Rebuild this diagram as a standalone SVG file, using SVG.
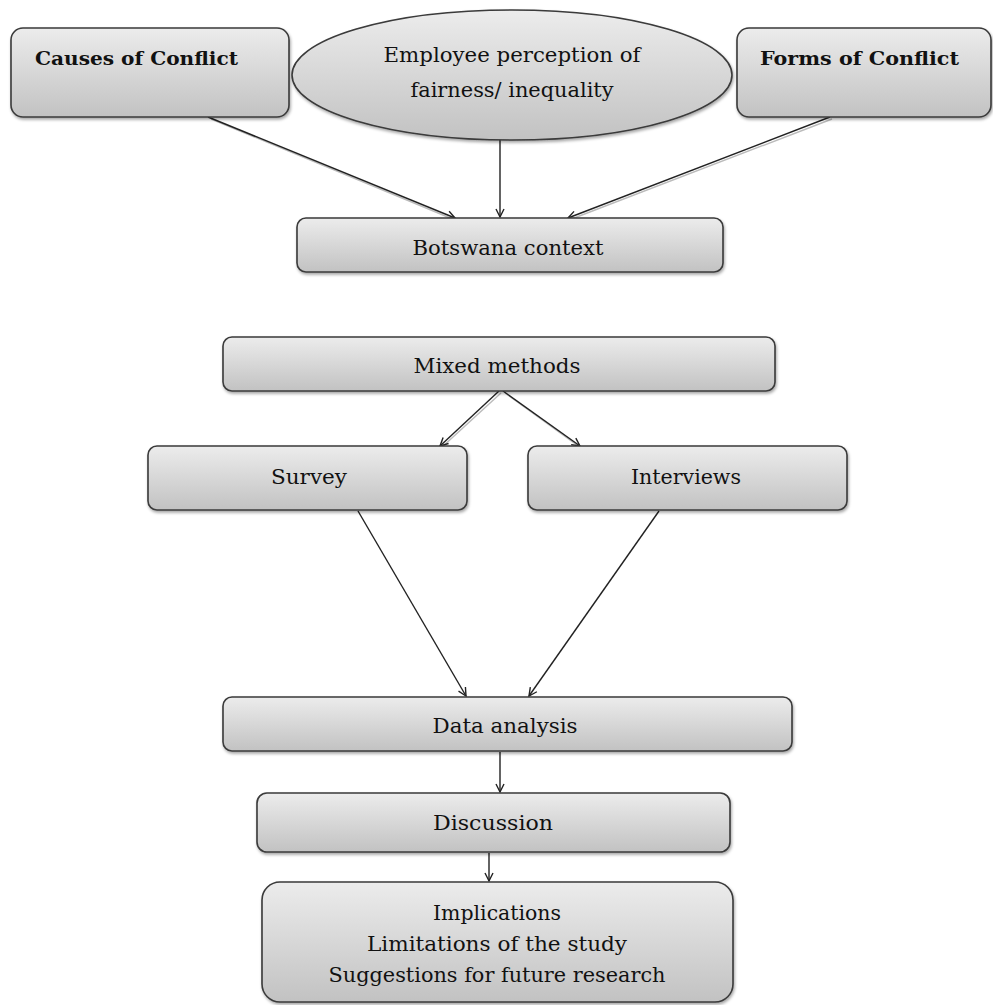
<svg xmlns="http://www.w3.org/2000/svg" width="993" height="1005" viewBox="0 0 993 1005">
<style>
.box{fill:url(#g);stroke:#3a3a3a;stroke-width:1.6;filter:url(#sh)}
.t{font-family:"DejaVu Serif","Liberation Serif",serif;font-size:20px;fill:#111;text-anchor:middle}
.b{font-family:"DejaVu Serif","Liberation Serif",serif;font-size:19px;font-weight:bold;fill:#111}
.c{stroke:#222;stroke-width:1.4;fill:none;marker-end:url(#ah)}
.s{stroke:#bbb;stroke-width:1.4;fill:none}
</style>
<defs>
<linearGradient id="g" x1="0" y1="0" x2="0" y2="1">
<stop offset="0" stop-color="#ececec"/>
<stop offset="1" stop-color="#c2c2c2"/>
</linearGradient>
<filter id="sh" x="-5%" y="-5%" width="115%" height="130%">
<feDropShadow dx="1" dy="2" stdDeviation="1.5" flood-color="#000" flood-opacity="0.35"/>
</filter>
<marker id="ah" markerWidth="12" markerHeight="12" refX="9" refY="5" orient="auto" markerUnits="userSpaceOnUse">
<path d="M1,1 L9,5 L1,9" fill="none" stroke="#222" stroke-width="1.4"/>
</marker>
</defs>
<rect width="993" height="1005" fill="#fff"/>
<g id="connectors">
<line class="s" x1="211" y1="119" x2="455" y2="220"/>
<line class="c" x1="208" y1="117" x2="455" y2="218"/>
<line class="c" x1="500" y1="140" x2="500" y2="217"/>
<line class="s" x1="832" y1="119" x2="569" y2="220"/>
<line class="c" x1="830" y1="117" x2="568" y2="218"/>
<line class="s" x1="501" y1="393" x2="441" y2="448"/>
<line class="c" x1="499" y1="391" x2="440" y2="446"/>
<line class="s" x1="505" y1="393" x2="581" y2="448"/>
<line class="c" x1="503" y1="391" x2="580" y2="446"/>
<line class="c" x1="358" y1="511" x2="466" y2="696"/>
<line class="c" x1="659" y1="511" x2="529" y2="696"/>
<line class="c" x1="500" y1="752" x2="500" y2="792"/>
<line class="c" x1="489" y1="853" x2="489" y2="881"/>
</g>
<g id="causes">
<rect class="box" x="11" y="28" width="278" height="89" rx="12"/>
<text class="b" x="35" y="65" textLength="203" lengthAdjust="spacingAndGlyphs">Causes of Conflict</text>
</g>
<g id="perception">
<ellipse class="box" cx="512" cy="75" rx="220" ry="65"/>
<text class="t" x="512" y="62" textLength="257" lengthAdjust="spacingAndGlyphs">Employee perception of</text>
<text class="t" x="512" y="97" textLength="203" lengthAdjust="spacingAndGlyphs">fairness/ inequality</text>
</g>
<g id="forms">
<rect class="box" x="737" y="28" width="254" height="89" rx="12"/>
<text class="b" x="760" y="65" textLength="199" lengthAdjust="spacingAndGlyphs">Forms of Conflict</text>
</g>
<g id="botswana">
<rect class="box" x="297" y="218" width="426" height="54" rx="9"/>
<text class="t" x="508" y="255" textLength="191" lengthAdjust="spacingAndGlyphs">Botswana context</text>
</g>
<g id="mixed">
<rect class="box" x="223" y="337" width="552" height="54" rx="9"/>
<text class="t" x="497" y="373" textLength="167" lengthAdjust="spacingAndGlyphs">Mixed methods</text>
</g>
<g id="survey">
<rect class="box" x="148" y="446" width="319" height="64" rx="9"/>
<text class="t" x="309" y="484" textLength="76" lengthAdjust="spacingAndGlyphs">Survey</text>
</g>
<g id="interviews">
<rect class="box" x="528" y="446" width="319" height="64" rx="9"/>
<text class="t" x="686" y="484" textLength="110" lengthAdjust="spacingAndGlyphs">Interviews</text>
</g>
<g id="analysis">
<rect class="box" x="223" y="697" width="569" height="54" rx="9"/>
<text class="t" x="505" y="733" textLength="145" lengthAdjust="spacingAndGlyphs">Data analysis</text>
</g>
<g id="discussion">
<rect class="box" x="257" y="793" width="473" height="59" rx="10"/>
<text class="t" x="493" y="830" textLength="120" lengthAdjust="spacingAndGlyphs">Discussion</text>
</g>
<g id="implications">
<rect class="box" x="262" y="882" width="471" height="120" rx="18"/>
<text class="t" x="497" y="920" textLength="128" lengthAdjust="spacingAndGlyphs">Implications</text>
<text class="t" x="497" y="951" textLength="260" lengthAdjust="spacingAndGlyphs">Limitations  of the study</text>
<text class="t" x="497" y="982" textLength="337" lengthAdjust="spacingAndGlyphs">Suggestions for future research</text>
</g>
</svg>
